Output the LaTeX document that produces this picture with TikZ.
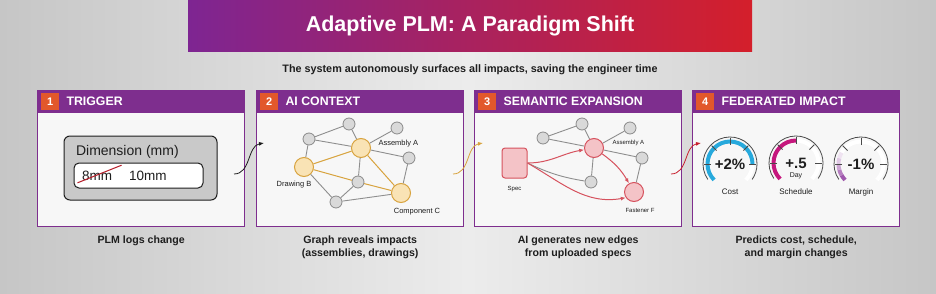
\documentclass[tikz,border=0pt]{standalone}
\usepackage{fontspec}
\setmainfont{Liberation Sans}
\usetikzlibrary{arrows.meta,positioning}
\definecolor{ink}{HTML}{1E1E1E}
\definecolor{plum}{HTML}{7E2E8E}
\definecolor{tag}{HTML}{E2582B}
\definecolor{panelfill}{HTML}{F7F7F7}
\definecolor{bgmid}{HTML}{ECECEC}
\definecolor{bgedge}{HTML}{C6C6C6}
\definecolor{bannerl}{HTML}{7E2592}
\definecolor{bannerm}{HTML}{B3226F}
\definecolor{bannerr}{HTML}{D41F2B}
\definecolor{dimgray}{HTML}{C9C9C9}
\definecolor{nodegray}{HTML}{D9D9D9}
\definecolor{nodeedge}{HTML}{8A8A8A}
\definecolor{edgegray}{HTML}{8E8E8E}
\definecolor{gold}{HTML}{D8A33E}
\definecolor{goldfill}{HTML}{F9E3B5}
\definecolor{rose}{HTML}{D6525E}
\definecolor{rosefill}{HTML}{F4C3C7}
\definecolor{strikered}{HTML}{B71F2B}
\definecolor{flowred}{HTML}{C8202E}
\definecolor{costblue}{HTML}{27A9DC}
\definecolor{schedpink}{HTML}{C5177D}
\definecolor{marginpurple}{HTML}{8E3A9E}
\definecolor{rimgray}{HTML}{4A4A4A}
\tikzset{
  banner/.style={left color=bannerl, middle color=bannerm, right color=bannerr, text=white, font=\bfseries\fontsize{21.5}{24}\selectfont},
  subtitle/.style={text=ink, font=\bfseries\fontsize{10.8}{13}\selectfont},
  panel/.style={draw=plum, line width=1.4pt, fill=panelfill, minimum width=207pt, minimum height=136pt, anchor=north west},
  panelhead/.style={fill=plum, inner sep=0pt, minimum width=207pt, minimum height=23pt, anchor=north west},
  numtag/.style={fill=tag, text=white, font=\bfseries\fontsize{11}{12}\selectfont, minimum width=18pt, minimum height=17pt, inner sep=0pt},
  headtext/.style={text=white, font=\bfseries\fontsize{12.3}{14}\selectfont, inner sep=0pt},
  caption/.style={text=ink, font=\bfseries\fontsize{10.6}{12.5}\selectfont, align=center},
  dimbox/.style={draw=ink, line width=1pt, fill=dimgray, rounded corners=6pt},
  dimtext/.style={text=ink, font=\fontsize{14}{16}\selectfont},
  valbox/.style={draw=ink, line width=1pt, fill=white, rounded corners=5pt},
  valtext/.style={text=ink, font=\fontsize{13.5}{16}\selectfont},
  strike/.style={draw=strikered, line width=1pt},
  gnode/.style={circle, draw=nodeedge, fill=nodegray, line width=0.8pt, minimum size=12pt, inner sep=0pt},
  goldnode/.style={circle, draw=gold, fill=goldfill, line width=1pt, minimum size=19pt, inner sep=0pt},
  rosenode/.style={circle, draw=rose, fill=rosefill, line width=1pt, minimum size=19pt, inner sep=0pt},
  specbox/.style={draw=rose, fill=rosefill, line width=1pt, rounded corners=3pt},
  edge/.style={draw=edgegray, line width=0.9pt},
  goldedge/.style={draw=gold, line width=1pt},
  redarrow/.style={-{Latex[length=5pt,width=4pt]}, draw=rose, line width=1pt},
  glabel/.style={text=ink, font=\fontsize{7.5}{9}\selectfont},
  slabel/.style={text=ink, font=\fontsize{6}{7}\selectfont},
  flow/.style={-{Latex[length=5pt,width=4pt]}, line width=0.8pt},
  gaugeval/.style={text=ink, font=\bfseries\fontsize{15}{17}\selectfont, inner sep=0pt},
  gaugeunit/.style={text=ink, font=\fontsize{7}{8}\selectfont, inner sep=1pt},
  gaugename/.style={text=ink, font=\fontsize{8}{9}\selectfont},
  track/.style={draw=white, line width=4pt},
  band/.style={line width=4pt},
  rim/.style={draw=rimgray, line width=0.8pt},
  tick/.style={draw=rimgray, line width=0.8pt}
}
\begin{document}
\begin{tikzpicture}[x=1pt, y=1pt]
\useasboundingbox (0,0) rectangle (936,293);
\shade[left color=bgedge, right color=bgedge, middle color=bgmid] (0,0) rectangle (936,293);
% title
\node[banner, minimum width=564pt, minimum height=51pt] (ttl) at (470,267.5) {Adaptive PLM: A Paradigm Shift};
\node[subtitle, below=10pt of ttl] (sub) {The system autonomously surfaces all impacts, saving the engineer time};

% 1 trigger
\node[panel] (p1) at (37,203) {};
\node[panelhead] (h1) at (37,203) {};
\node[numtag, right=4pt of h1.west] (n1) {1};
\node[headtext, right=7pt of n1] (t1) {TRIGGER};
\node[dimbox, minimum width=153pt, minimum height=64pt] (dim) at (140.5,125) {};
\node[dimtext, below right=6pt and 9pt of dim.north west] (dimlbl) {Dimension (mm)};
\node[valbox, minimum width=129pt, minimum height=25pt] (val) at (138.5,117.5) {};
\node[valtext, right=5pt of val.west] (old) {8mm};
\node[valtext, right=10pt of old] (new) {10mm};
\draw[strike] ([xshift=-1pt,yshift=1pt]old.south west) -- ([xshift=6pt,yshift=2pt]old.north east);
\node[caption, below=5pt of p1] (cap1) {PLM logs change};

% 2 ai context
\node[panel] (p2) at (256,203) {};
\node[panelhead] (h2) at (256,203) {};
\node[numtag, right=4pt of h2.west] (n2) {2};
\node[headtext, right=7pt of n2] (t2) {AI CONTEXT};
\node[gnode] (g1) at (349,169) {};
\node[gnode] (g2) at (309,154) {};
\node[gnode] (g3) at (397,165) {};
\node[gnode] (g4) at (409,135) {};
\node[gnode] (g5) at (358,111) {};
\node[gnode] (g6) at (336,91) {};
\node[goldnode] (asmA) at (361,145) {};
\node[goldnode] (drwB) at (304,126) {};
\node[goldnode] (cmpC) at (401,100) {};
\draw[edge] (g2) -- (g1) (g1) -- (asmA) (g2) -- (asmA) (g2) -- (drwB) (asmA) -- (g3) (asmA) -- (g4)
  (g4) -- (cmpC) (asmA) -- (g5) (g5) -- (g6) (drwB) -- (g6) (g6) -- (cmpC);
\draw[goldedge] (drwB) -- (asmA) (drwB) -- (g5) (g5) -- (cmpC) (asmA) -- (cmpC);
\node[glabel, right=4pt of asmA, yshift=4pt] (asmAlbl) {Assembly A};
\node[glabel, below=1pt of drwB, xshift=-10pt] (drwBlbl) {Drawing B};
\node[glabel, below=2pt of cmpC, xshift=16pt] (cmpClbl) {Component C};
\node[caption, below=5pt of p2] (cap2) {Graph reveals impacts\\(assemblies, drawings)};

% 3 semantic expansion
\node[panel] (p3) at (474,203) {};
\node[panelhead] (h3) at (474,203) {};
\node[numtag, right=4pt of h3.west] (n3) {3};
\node[headtext, right=7pt of n3] (t3) {SEMANTIC EXPANSION};
\node[specbox, minimum width=25pt, minimum height=30pt] (spec) at (514.5,130) {};
\node[gnode] (s1) at (543,155) {};
\node[gnode] (s2) at (582,169) {};
\node[gnode] (s3) at (630,165) {};
\node[gnode] (s4) at (642,135) {};
\node[gnode] (s5) at (591,111) {};
\node[rosenode] (sA) at (594,145) {};
\node[rosenode] (fstF) at (634,101) {};
\draw[edge] (s1) -- (s2) (s2) -- (sA) (s1) -- (sA) (sA) -- (s3) (sA) -- (s4) (s4) -- (fstF) (sA) -- (s5);
\draw[edge] (spec.east) to[bend right=8] (s5);
\draw[redarrow] (spec.east) to[out=0, in=190] (sA);
\draw[redarrow] (sA) to[bend left=12] (fstF);
\draw[redarrow] (spec.east) to[out=-30, in=190] (fstF.215);
\node[slabel, below=4pt of spec] (speclbl) {Spec};
\node[slabel, right=5pt of sA, yshift=5pt] (sAlbl) {Assembly A};
\node[slabel, below=3pt of fstF, xshift=6pt] (fstFlbl) {Fastener F};
\node[caption, below=5pt of p3] (cap3) {AI generates new edges\\from uploaded specs};

% 4 federated impact
\node[panel] (p4) at (692,203) {};
\node[panelhead] (h4) at (692,203) {};
\node[numtag, right=4pt of h4.west] (n4) {4};
\node[headtext, right=7pt of n4] (t4) {FEDERATED IMPACT};
\node[gaugeval] (cost) at (730,129) {+2\%};
\node[gaugeval] (sched) at (796,130) {+.5};
\node[gaugeval] (marg) at (861,129) {-1\%};
\node[gaugeunit, below=3pt of sched] (day) {Day};
\foreach \g in {cost,sched,marg}
  \draw[track] ([shift={(225:22.5pt)}]\g.center) arc[start angle=225, end angle=-45, radius=22.5pt];
\draw[band, draw=costblue] ([shift={(225:22.5pt)}]cost.center) arc[start angle=225, end angle=0, radius=22.5pt];
\draw[band, draw=schedpink] ([shift={(225:22.5pt)}]sched.center) arc[start angle=225, end angle=90, radius=22.5pt];
\foreach \s/\e/\p in {225/210/85,210/195/65,195/180/45,180/165/28,165/150/14}
  \draw[band, draw=marginpurple!\p!white] ([shift={(\s:22.5pt)}]marg.center) arc[start angle=\s, end angle=\e, radius=22.5pt];
\foreach \g in {cost,sched,marg} {
  \draw[rim] ([shift={(215:27pt)}]\g.center) arc[start angle=215, end angle=-35, radius=27pt];
  \foreach \t in {0,45,...,180}
    \draw[tick] ([shift={(\t:19pt)}]\g.center) -- ([shift={(\t:26pt)}]\g.center);
}
\node[gaugename] (costname) at ([yshift=-28pt]cost.center) {Cost};
\node[gaugename] (schedname) at ([yshift=-29pt]sched.center) {Schedule};
\node[gaugename] (margname) at ([yshift=-28pt]marg.center) {Margin};
\node[caption, below=5pt of p4] (cap4) {Predicts cost, schedule,\\and margin changes};

% hand-offs between panels
\coordinate (f1a) at (234,119);
\coordinate (f1b) at (264,150);
\coordinate (f2a) at (453,119);
\coordinate (f2b) at (483,150);
\coordinate (f3a) at (671,119);
\coordinate (f3b) at (701,150);
\draw[flow, draw=ink] (f1a) to[out=0, in=190] (f1b);
\draw[flow, draw=gold] (f2a) to[out=0, in=190] (f2b);
\draw[flow, draw=flowred] (f3a) to[out=0, in=190] (f3b);
\end{tikzpicture}
\end{document}
